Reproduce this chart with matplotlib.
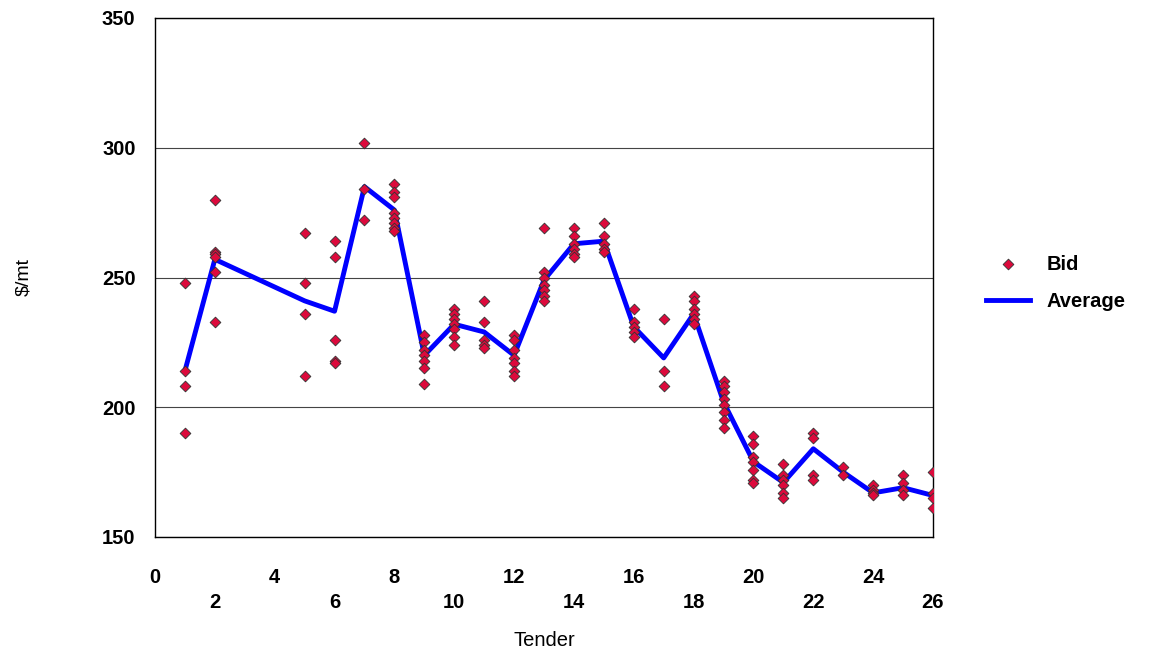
import matplotlib.pyplot as plt

# bids per tender
bid_tenders = [1, 2, 5, 6, 7, 8, 9, 10, 11, 12, 13, 14, 15, 16, 17, 18, 19, 20, 21, 22, 23, 24, 25, 26]
bids = [
    [248, 214, 208, 190],
    [280, 260, 259, 258, 252, 233],
    [267, 248, 236, 212],
    [264, 258, 226, 218, 217],
    [302, 284, 272],
    [286, 283, 281, 275, 273, 271, 269, 268],
    [228, 225, 222, 220, 218, 215, 209],
    [238, 236, 234, 232, 230, 227, 224],
    [241, 233, 226, 224, 223],
    [228, 226, 222, 219, 217, 214, 212],
    [269, 252, 250, 247, 245, 243, 241],
    [269, 266, 263, 261, 259, 258],
    [271, 266, 263, 261, 260],
    [238, 233, 231, 229, 227],
    [234, 214, 208],
    [243, 241, 238, 236, 234, 232],
    [210, 208, 206, 203, 201, 198, 195, 192],
    [189, 186, 181, 179, 176, 172, 171],
    [178, 174, 172, 170, 167, 165],
    [190, 188, 174, 172],
    [177, 174],
    [170, 168, 167, 166],
    [174, 171, 168, 166],
    [175, 167, 165, 161],
]
average = [214, 257, 241, 237, 285, 276, 220, 232, 229, 220, 249, 263, 264,
           231, 219, 236, 202, 179, 171, 184, 175, 167, 169, 166]

FONT = 'Liberation Sans'

fig = plt.figure(figsize=(11.56, 6.66), dpi=100)
ax = fig.add_axes([155 / 1156, 1 - 537 / 666, 778 / 1156, 519 / 666])

xs, ys = [], []
for t, vals in zip(bid_tenders, bids):
    xs += [t] * len(vals)
    ys += vals
ax.scatter(xs, ys, marker='D', s=30, c='#dc0a3c', edgecolors='#333333', linewidths=0.6, zorder=3, label='Bid')
ax.plot(bid_tenders, average, color='#0000ff', lw=3.5, zorder=2, label='Average')

ax.set_xlim(0, 26)
ax.set_ylim(150, 350)
ax.set_yticks([150, 200, 250, 300, 350])
ax.yaxis.grid(True, color='#444444', lw=0.8)
ax.set_axisbelow(True)
xt = list(range(0, 27, 2))
ax.set_xticks(xt)
ax.set_xticklabels([str(v) if i % 2 == 0 else '\n' + str(v) for i, v in enumerate(xt)])
ax.tick_params(axis='x', length=0, labelsize=14.5, pad=22)
ax.tick_params(axis='y', length=0, labelsize=14.5, pad=14)
for lab in ax.get_xticklabels():
    lab.set_linespacing(1.4)
for lab in ax.get_xticklabels() + ax.get_yticklabels():
    lab.set_fontweight('bold')
    lab.set_fontfamily(FONT)
ax.set_xlabel('Tender', fontsize=14.5, family=FONT, labelpad=14)
ax.set_ylabel('$/mt', fontsize=14, family=FONT, labelpad=50)
for s in ax.spines.values():
    s.set_linewidth(1)

ax.legend(loc='center left', bbox_to_anchor=(1.045, 0.49), frameon=False,
          prop={'family': FONT, 'weight': 'bold', 'size': 14.5},
          handlelength=2.2, labelspacing=0.9)

fig.savefig('out.png')
